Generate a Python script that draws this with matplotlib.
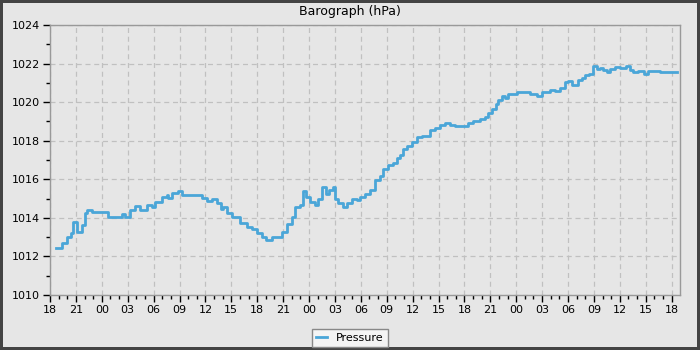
import matplotlib
matplotlib.use("Agg")
import matplotlib.pyplot as plt
from matplotlib.ticker import MultipleLocator, FixedLocator, FixedFormatter

# hours since 18:00 on day 1
hours = [0.69, 1.36, 1.93, 2.40, 2.70, 3.16, 3.67, 4.05, 4.32, 4.83, 6.14, 6.72, 7.73, 8.30, 8.69,
         9.27, 9.84, 10.42, 11.20, 11.78, 12.16, 12.94, 13.52, 13.70, 14.10, 14.86, 15.25, 16.21,
         17.18, 17.57, 18.15, 18.73, 19.31, 19.77, 20.07, 20.47, 21.04, 21.62, 22.01, 22.78, 23.36,
         23.94, 24.52, 25.02, 25.68, 26.26, 26.84, 27.42, 27.99, 28.38, 28.96, 29.27, 29.65, 30.11,
         30.69, 31.07, 31.47, 31.97, 32.35, 32.74, 33.01, 33.39, 33.97, 34.36, 34.94, 35.52, 35.90,
         36.48, 37.06, 37.64, 38.22, 38.60, 39.18, 39.76, 40.15, 40.54, 40.85, 41.31, 41.89, 42.47,
         43.05, 43.63, 44.01, 44.59, 45.17, 45.75, 46.33, 46.91, 47.68, 48.45, 49.03, 49.80, 50.38,
         50.76, 51.16, 51.66, 51.92, 52.32, 52.70, 53.08, 54.05, 54.82, 55.59, 56.37, 56.95, 57.91,
         58.49, 59.07, 59.65, 60.03, 60.42, 60.81, 61.19, 61.58, 61.96, 62.46, 62.93, 63.32, 63.70,
         64.08, 64.48, 64.86, 65.44, 66.02, 66.71, 67.18, 67.56, 68.14, 68.80, 69.30, 70.07, 70.65,
         71.23, 72.01, 72.58]
pressure = [1012.43, 1012.69, 1013.0, 1013.2, 1013.8, 1013.29, 1013.63, 1014.27, 1014.4, 1014.3,
            1014.3, 1014.07, 1014.07, 1014.2, 1014.05, 1014.41, 1014.62, 1014.41, 1014.67, 1014.55,
            1014.84, 1015.1, 1015.19, 1015.05, 1015.28, 1015.4, 1015.19, 1015.19, 1015.19, 1015.05,
            1014.86, 1015.0, 1014.76, 1014.45, 1014.58, 1014.24, 1014.07, 1014.07, 1013.72, 1013.52,
            1013.41, 1013.24, 1013.03, 1012.86, 1013.03, 1013.03, 1013.29, 1013.67, 1014.07, 1014.58,
            1014.67, 1015.41, 1015.1, 1014.84, 1014.67, 1015.0, 1015.59, 1015.24, 1015.45, 1015.59,
            1015.0, 1014.76, 1014.55, 1014.76, 1014.97, 1014.95, 1015.1, 1015.24, 1015.45, 1015.97,
            1016.18, 1016.52, 1016.75, 1016.87, 1017.09, 1017.26, 1017.56, 1017.73, 1017.95, 1018.18,
            1018.25, 1018.23, 1018.56, 1018.65, 1018.82, 1018.9, 1018.82, 1018.77, 1018.77, 1018.94,
            1019.04, 1019.11, 1019.22, 1019.42, 1019.63, 1019.9, 1020.11, 1020.32, 1020.2, 1020.44,
            1020.54, 1020.51, 1020.42, 1020.34, 1020.54, 1020.63, 1020.6, 1020.75, 1021.03, 1021.1,
            1020.89, 1020.9, 1021.15, 1021.24, 1021.41, 1021.45, 1021.9, 1021.72, 1021.79, 1021.67,
            1021.58, 1021.72, 1021.81, 1021.76, 1021.9, 1021.67, 1021.58, 1021.6, 1021.46, 1021.62,
            1021.63, 1021.55, 1021.55, 1021.55, 1021.55]
tick_hours = list(range(0, 73, 3))
tick_labels = ["18", "21", "00", "03", "06", "09", "12", "15"] * 3 + ["18"]

bg = "#e6e6e6"
fig = plt.figure(figsize=(7, 3.5), dpi=100, facecolor=bg,
                 edgecolor="#444444", linewidth=3)
ax = fig.add_axes([50/700, 1-295/350, 630/700, 270/350])
ax.set_facecolor(bg)

ax.plot(hours, pressure, drawstyle="steps-post", color="#4aa6d8", lw=2, label="Pressure")

ax.set_xlim(0, 72.97)
ax.set_ylim(1010, 1024)
ax.xaxis.set_major_locator(FixedLocator(tick_hours))
ax.xaxis.set_major_formatter(FixedFormatter(tick_labels))
ax.xaxis.set_minor_locator(MultipleLocator(1))
ax.yaxis.set_major_locator(MultipleLocator(2))
ax.yaxis.set_minor_locator(MultipleLocator(1))
ax.tick_params(which="major", direction="out", length=5, width=1, color="black",
               labelsize=8, pad=2)
ax.tick_params(which="minor", direction="out", length=3, width=1, color="black")
ax.grid(True, which="major", ls=(0, (4, 3)), color="#c0c0c0", lw=0.9)
for s in ax.spines.values():
    s.set_color("#999999")
    s.set_linewidth(1)

fig.text(0.5, 1 - 12/350, "Barograph (hPa)", fontsize=9, ha="center", va="center")

leg = fig.legend(loc="lower center", bbox_to_anchor=(0.5, 3/350), fontsize=8,
                 frameon=True, fancybox=False, handlelength=1.0, borderaxespad=0,
                 borderpad=0.35, handletextpad=0.8)
leg.get_frame().set_edgecolor("#888888")
leg.get_frame().set_facecolor("#f4f4f4")
leg.get_frame().set_alpha(1)

fig.savefig("out.png", dpi=100, facecolor=bg, edgecolor="#444444")
